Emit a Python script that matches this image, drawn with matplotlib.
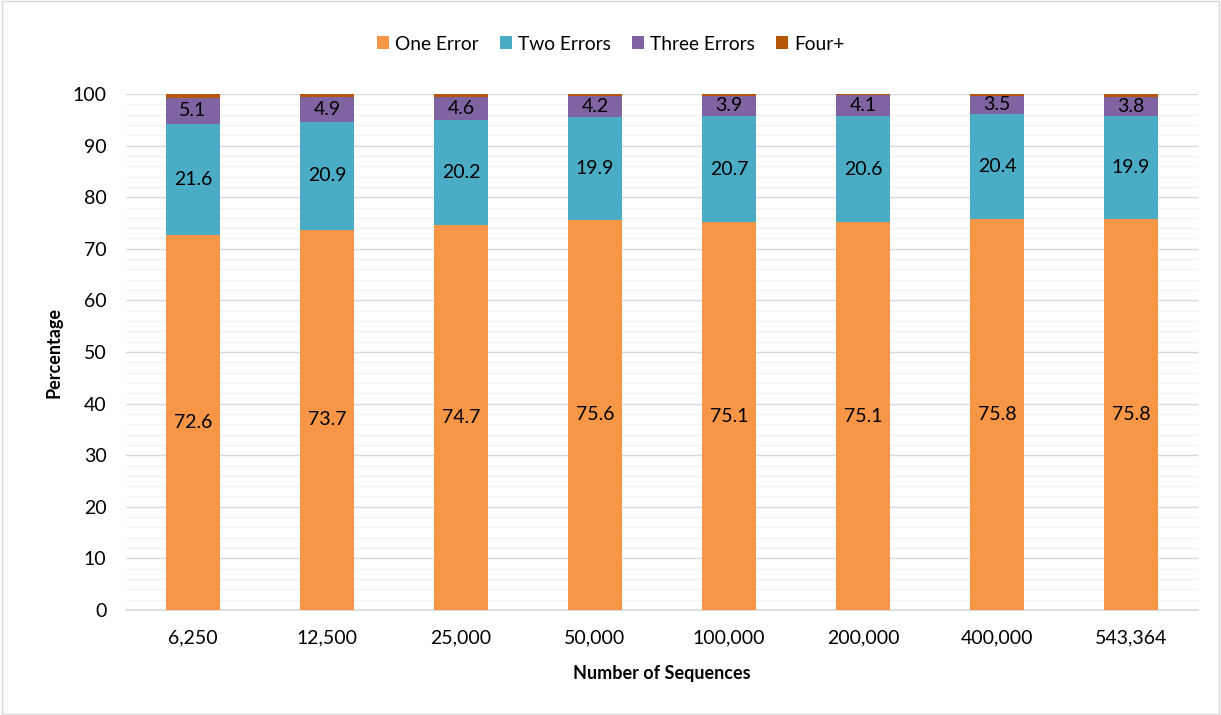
import matplotlib
matplotlib.use("Agg")
import matplotlib.pyplot as plt
from matplotlib.patches import Rectangle
from matplotlib.ticker import MultipleLocator
import numpy as np

plt.rcParams['font.family'] = ['Lato', 'DejaVu Sans']

categories = ["6,250", "12,500", "25,000", "50,000", "100,000", "200,000", "400,000", "543,364"]
one_error = [72.6, 73.7, 74.7, 75.6, 75.1, 75.1, 75.8, 75.8]
two_errors = [21.6, 20.9, 20.2, 19.9, 20.7, 20.6, 20.4, 19.9]
three_errors = [5.1, 4.9, 4.6, 4.2, 3.9, 4.1, 3.5, 3.8]
four_plus = [0.7, 0.5, 0.5, 0.3, 0.3, 0.2, 0.3, 0.5]

series = [
    ("One Error", one_error, "#F79646", True),
    ("Two Errors", two_errors, "#4BACC6", True),
    ("Three Errors", three_errors, "#8064A2", True),
    ("Four+", four_plus, "#B65708", False),
]

W, H = 1221, 715
fig = plt.figure(figsize=(W / 100, H / 100), dpi=100)
ax = fig.add_axes([126 / W, 1 - 610 / H, (1198 - 126) / W, (610 - 94) / H])

x = np.arange(len(categories))
bottom = np.zeros(len(categories))
for name, vals, color, labelled in series:
    vals = np.array(vals)
    bars = ax.bar(x, vals, width=0.4, bottom=bottom, color=color, label=name,
                  zorder=3, edgecolor="none")
    if labelled:
        ax.bar_label(bars, labels=[f"{v:.1f}" for v in vals], label_type="center",
                     fontsize=14, color="black", zorder=4)
    bottom += vals

ax.set_xlim(-0.5, len(categories) - 0.5)
ax.set_ylim(0, 100)
ax.yaxis.set_major_locator(MultipleLocator(10))
ax.yaxis.set_minor_locator(MultipleLocator(2))
ax.grid(axis="y", which="major", color="#D9D9D9", linewidth=1.0, zorder=0)
ax.grid(axis="y", which="minor", color="#F2F2F2", linewidth=1.0, zorder=0)
ax.set_axisbelow(True)

ax.set_xticks(x)
ax.set_xticklabels(categories)
ax.tick_params(axis="both", which="both", length=0, labelsize=14, colors="black")
ax.tick_params(axis="x", pad=14)
ax.tick_params(axis="y", pad=14)
for s in ["top", "right", "left"]:
    ax.spines[s].set_visible(False)
ax.spines["bottom"].set_color("#D9D9D9")
ax.spines["bottom"].set_linewidth(1.2)

ax.set_ylabel("Percentage", fontsize=13, fontweight="bold", labelpad=7)
ax.set_xlabel("Number of Sequences", fontsize=13, fontweight="bold", labelpad=13)

fig.legend(loc="center", bbox_to_anchor=(0.5, 1 - 44 / H), ncol=4, frameon=False,
           fontsize=13.8, handlelength=0.65, handleheight=0.65, handletextpad=0.3,
           columnspacing=1.1)

fig.patches.append(Rectangle((0.002, 0.002), 0.996, 0.996, transform=fig.transFigure,
                             fill=False, edgecolor="#D9D9D9", linewidth=1.0))

fig.savefig("out.png", dpi=100, facecolor="white")
